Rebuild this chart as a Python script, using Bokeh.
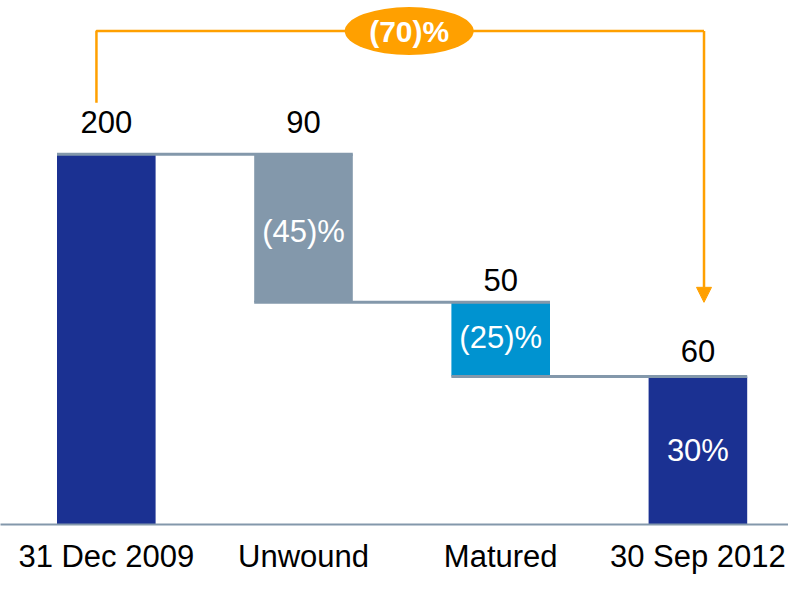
from bokeh.plotting import figure
from bokeh.models import Range1d, FixedTicker, Arrow, NormalHead, ColumnDataSource
from bokeh.core.properties import value
from bokeh.embed import file_html
from bokeh.resources import INLINE

# ---- data ----
categories = ["31 Dec 2009", "Unwound", "Matured", "30 Sep 2012"]
bar_top = [200, 200, 120, 80]        # drawn top of each bar
bar_bottom = [0, 120, 80, 0]         # drawn bottom of each bar
value_labels = ["200", "90", "50", "60"]
inside_labels = ["", "(45)%", "(25)%", "30%"]
total_change_label = "(70)%"

# ---- style ----
bar_colors = ["#1b3192", "#8398ab", "#0093d0", "#1b3192"]
label_offsets = [-21, -21, -11, -14]   # px above each bar top
inside_offsets = [0, 3, -2, 0]
grey = "#8398ab"
orange = "#ffa000"
font = "Liberation Sans"

idx = list(range(len(categories)))

W, H = 788, 576
bottom_border = 52
frame_h = H - bottom_border
spacing = 197.2
x_start = -105.8 / spacing
x_end = x_start + W / spacing
px_per_unit = (frame_h - 153.7) / 200.0
y_end = frame_h / px_per_unit

p = figure(width=W, height=H, x_range=Range1d(x_start, x_end), y_range=Range1d(0, y_end),
           output_backend="svg", toolbar_location=None, y_axis_location=None,
           min_border_left=0, min_border_right=0, min_border_top=0,
           min_border_bottom=bottom_border)
p.xgrid.visible = False
p.ygrid.visible = False
p.outline_line_color = None
p.background_fill_color = "white"

xa = p.xaxis[0]
xa.ticker = FixedTicker(ticks=idx)
xa.major_label_overrides = {i: c for i, c in zip(idx, categories)}
xa.axis_line_color = grey
xa.axis_line_width = 2
xa.major_tick_line_color = None
xa.minor_tick_line_color = None
xa.major_label_text_font = font
xa.major_label_text_font_size = "31px"
xa.major_label_text_color = "black"
xa.major_label_standoff = 8

src = ColumnDataSource(dict(x=idx, top=bar_top, bottom=bar_bottom, color=bar_colors,
                            vlab=value_labels, ilab=inside_labels,
                            voff=label_offsets, ioff=inside_offsets,
                            mid=[(t + b) / 2 for t, b in zip(bar_top, bar_bottom)]))

p.vbar(x="x", width=0.5, top="top", bottom="bottom", fill_color="color",
       line_color=None, source=src)

# connector lines between consecutive bars
cx0 = [i - 0.25 for i in idx[:-1]]
cx1 = [i + 1.25 for i in idx[:-1]]
cy = [bar_top[i + 1] for i in idx[:-1]]
p.segment(x0=cx0, x1=cx1, y0=cy, y1=cy, line_color=grey, line_width=3)

p.text(x="x", y="top", text="vlab", source=src, text_align="center",
       text_baseline="bottom", y_offset="voff", text_font=value(font),
       text_font_size="31px", text_color="black")
p.text(x="x", y="mid", text="ilab", source=src, text_align="center",
       text_baseline="middle", y_offset="ioff", text_font=value(font),
       text_font_size="31px", text_color="white")

# bracket showing total change
br_y = 266.5
left_x = idx[0] - 0.05
right_x = idx[-1] + 0.031
p.line(x=[left_x, left_x, right_x, right_x], y=[227.8, br_y, br_y, br_y],
       line_color=orange, line_width=2.5)
p.add_layout(Arrow(end=NormalHead(size=15, fill_color=orange, line_color=orange),
                   x_start=right_x, y_start=br_y, x_end=right_x, y_end=bar_top[2],
                   line_color=orange, line_width=2.5))
p.ellipse(x=[1.536], y=[br_y], width=129, height=48, width_units="screen",
          height_units="screen", fill_color=orange, line_color=None)
p.text(x=[1.536], y=[br_y], text=[total_change_label], text_align="center",
       text_baseline="middle", text_font=value(font), text_font_size="30px",
       text_font_style="bold", text_color="white")

open("out.html", "w").write(file_html(p, INLINE))
